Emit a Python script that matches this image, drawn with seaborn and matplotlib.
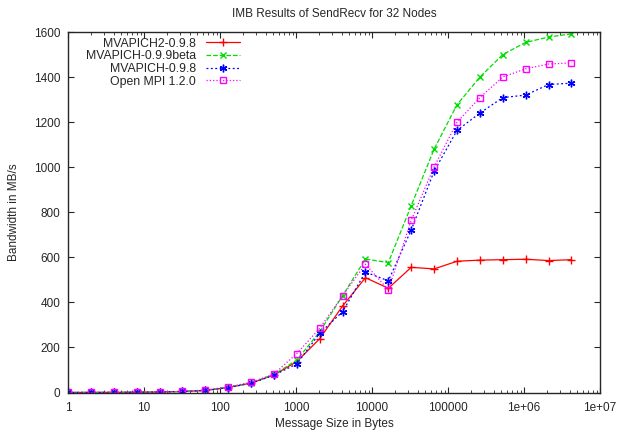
import numpy as np
import pandas as pd
import matplotlib
matplotlib.use('Agg')
import matplotlib.pyplot as plt
import seaborn as sns
from matplotlib.ticker import FixedLocator, FixedFormatter, LogLocator, NullFormatter

# message sizes: 1 .. 4 MB (powers of two)
sizes = [2 ** k for k in range(23)]

mvapich2_098 = [0.2, 0.4, 0.7, 1.2, 2.3, 4.5, 9, 22, 42, 78, 137, 239, 384, 510,
                463, 556, 549, 583, 588, 590, 592, 586, 590]
mvapich_099beta = [0.2, 0.4, 0.7, 1.2, 2.4, 4.8, 10, 23, 43, 80, 144, 270, 430, 593,
                   577, 830, 1081, 1278, 1401, 1501, 1555, 1579, 1593]
mvapich_098 = [0.2, 0.4, 0.7, 1.2, 2.3, 4.6, 9, 22, 41, 77, 127, 263, 359, 535,
               496, 722, 983, 1164, 1241, 1310, 1321, 1368, 1374]
openmpi_120 = [0.2, 0.4, 0.7, 1.3, 2.5, 5.0, 11, 25, 45, 82, 173, 285, 430, 570,
               456, 765, 1002, 1200, 1310, 1401, 1438, 1459, 1464]

series = {
    'MVAPICH2-0.9.8': mvapich2_098,
    'MVAPICH-0.9.9beta': mvapich_099beta,
    'MVAPICH-0.9.8': mvapich_098,
    'Open MPI 1.2.0': openmpi_120,
}

xtick_vals = [1, 10, 100, 1000, 10000, 100000, 1e6, 1e7]
xtick_labels = ['1', '10', '100', '1000', '10000', '100000', '1e+06', '1e+07']

sns.set_style('ticks')
plt.rcParams['font.family'] = ['Liberation Sans', 'DejaVu Sans']
plt.rcParams['xtick.direction'] = 'in'
plt.rcParams['ytick.direction'] = 'in'

styles = {
    'MVAPICH2-0.9.8': dict(color='#ff0000', linestyle='-', marker='+', markersize=5.5),
    'MVAPICH-0.9.9beta': dict(color='#00dd00', linestyle='--', marker='x', markersize=4.5),
    'MVAPICH-0.9.8': dict(color='#0000ff', linestyle=(0, (1.5, 2)), marker=(6, 2, 0), markersize=5.5),
    'Open MPI 1.2.0': dict(color='#ff00ff', linestyle=':', marker='s', markersize=4.2,
                           markerfacecolor='none'),
}

fig = plt.figure(figsize=(6.18, 4.34), dpi=100)
ax = fig.add_axes([0.110, 0.0956, 0.861, 0.830])

for name, vals in series.items():
    df = pd.DataFrame({'size': sizes, 'bw': vals})
    st = styles[name]
    sns.lineplot(data=df, x='size', y='bw', ax=ax, label=name, linewidth=0.9,
                 markeredgewidth=1.0, markeredgecolor=st['color'], **st)

ax.set_xscale('log')
ax.set_xlim(1, 1e7)
ax.set_ylim(0, 1600)
ax.xaxis.set_major_locator(FixedLocator(xtick_vals))
ax.xaxis.set_major_formatter(FixedFormatter(xtick_labels))
ax.xaxis.set_minor_locator(LogLocator(base=10, subs=np.arange(2, 10), numticks=20))
ax.xaxis.set_minor_formatter(NullFormatter())
ax.set_yticks(range(0, 1601, 200))
ax.tick_params(which='both', top=True, right=True, labelsize=8.5, length=4)
ax.tick_params(which='minor', length=2.5)
ax.tick_params(axis='x', which='major', pad=7)
ax.tick_params(axis='y', which='major', pad=5.5)
for sp in ax.spines.values():
    sp.set_linewidth(1.0)

ax.set_title('IMB Results of SendRecv for 32 Nodes', fontsize=8.5, pad=11)
ax.set_xlabel('Message Size in Bytes', fontsize=8.5, labelpad=3)
ax.set_ylabel('Bandwidth in MB/s', fontsize=8.5, labelpad=10)

ax.legend(loc='upper right', frameon=False, markerfirst=False, fontsize=8.8,
          handlelength=2.8, handletextpad=0.8, labelspacing=0.05,
          borderaxespad=0, borderpad=0, bbox_to_anchor=(0.323, 0.985))

fig.savefig('out.png', dpi=100)
